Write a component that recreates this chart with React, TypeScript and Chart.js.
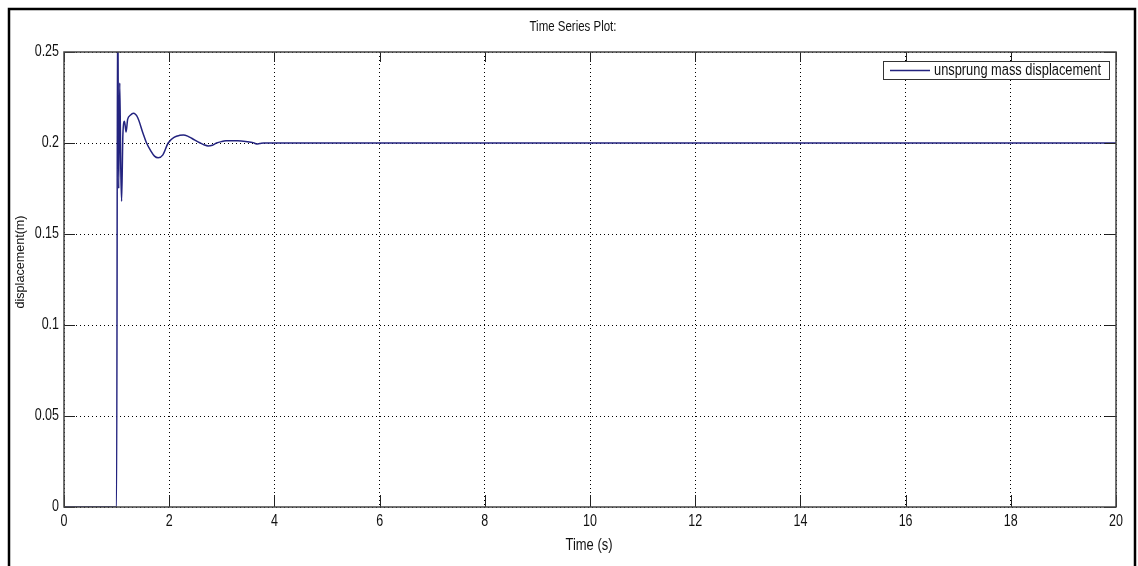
import React, { useEffect, useRef } from "react";
import { Chart, registerables } from "chart.js";

Chart.register(...registerables);

const TITLE = "Time Series Plot:";
const X_TITLE = "Time (s)";
const Y_TITLE = "displacement(m)";
const SERIES_LABEL = "unsprung mass displacement";

const timeValues = [
  0, 1.0, 1.02, 1.04, 1.06, 1.08, 1.095, 1.12, 1.15, 1.18, 1.21, 1.26, 1.32, 1.4, 1.5,
  1.57, 1.65, 1.72, 1.79, 1.88, 1.98, 2.1, 2.2, 2.27, 2.35, 2.45, 2.59, 2.67, 2.74,
  2.82, 2.9, 3.0, 3.08, 3.16, 3.3, 3.45, 3.6, 3.66, 3.72, 3.8, 20,
];
const displacementValues = [
  0, 0, 0.29, 0.175, 0.233, 0.185, 0.168, 0.205, 0.212, 0.206, 0.213, 0.2152, 0.2163,
  0.214, 0.2055, 0.2, 0.1957, 0.1928, 0.1919, 0.1935, 0.2, 0.2032, 0.2042, 0.2044,
  0.2038, 0.2022, 0.2, 0.1989, 0.1984, 0.1988, 0.2, 0.2008, 0.2012, 0.2013, 0.2012,
  0.2008, 0.2002, 0.1995, 0.1997, 0.2, 0.2,
];

const X_MIN = 0;
const X_MAX = 20;
const X_STEP = 2;
const Y_MIN = 0;
const Y_MAX = 0.25;
const Y_STEP = 0.05;

const FONT = "'Liberation Sans', Arial, sans-serif";
const NARROW = 0.78;
const LINE_COLOR = "#23237f";

function narrowText(ctx: any, text: string, x: number, y: number, size: number, align: string, target?: number) {
  ctx.save();
  ctx.font = `${size}px ${FONT}`;
  ctx.textBaseline = "middle";
  ctx.textAlign = "left";
  const w = ctx.measureText(text).width;
  const sx = target ? target / w : NARROW;
  const dw = w * sx;
  let x0 = x;
  if (align === "center") x0 = x - dw / 2;
  else if (align === "right") x0 = x - dw;
  ctx.translate(x0, y);
  ctx.scale(sx, 1);
  ctx.fillText(text, 0, 0);
  ctx.restore();
}

const decorPlugin = {
  id: "decor",
  afterDatasetsDraw(chart: any) {
    const { ctx, chartArea } = chart;
    const { left, right, top, bottom } = chartArea;
    const xs = chart.scales.x;
    const ys = chart.scales.y;
    ctx.save();
    // inner tick marks
    ctx.strokeStyle = "#222";
    ctx.lineWidth = 1;
    ctx.setLineDash([]);
    ctx.beginPath();
    xs.ticks.forEach((t: any) => {
      const px = Math.round(xs.getPixelForValue(t.value)) + 0.5;
      ctx.moveTo(px, bottom);
      ctx.lineTo(px, bottom - 12);
      ctx.moveTo(px, top);
      ctx.lineTo(px, top + 10);
    });
    ys.ticks.forEach((t: any) => {
      const py = Math.round(ys.getPixelForValue(t.value)) + 0.5;
      ctx.moveTo(left, py);
      ctx.lineTo(left + 11, py);
      ctx.moveTo(right, py);
      ctx.lineTo(right - 11, py);
    });
    ctx.stroke();
    // axes box
    ctx.strokeStyle = "#444";
    ctx.lineWidth = 1.5;
    ctx.strokeRect(left, top, right - left, bottom - top);

    // tick labels
    ctx.fillStyle = "#111";
    xs.ticks.forEach((t: any) => {
      narrowText(ctx, String(t.value), xs.getPixelForValue(t.value), bottom + 15, 16, "center");
    });
    ys.ticks.forEach((t: any) => {
      const lbl = String(Math.round(t.value * 100) / 100);
      narrowText(ctx, lbl, left - 5, ys.getPixelForValue(t.value), 16, "right");
    });

    // legend
    const lx = 883, ly = 61, lw = 226, lh = 18;
    ctx.fillStyle = "#fff";
    ctx.fillRect(lx, ly, lw, lh);
    ctx.strokeStyle = "#333";
    ctx.lineWidth = 1;
    ctx.strokeRect(lx + 0.5, ly + 0.5, lw, lh);
    ctx.strokeStyle = LINE_COLOR;
    ctx.lineWidth = 1.5;
    ctx.beginPath();
    ctx.moveTo(890, 70.5);
    ctx.lineTo(930, 70.5);
    ctx.stroke();
    ctx.fillStyle = "#111";
    narrowText(ctx, chart.data.datasets[0].label, 934, 71, 16, "left", 167);

    // titles
    narrowText(ctx, TITLE, 573, 27, 15, "center", 87);
    narrowText(ctx, X_TITLE, 589, 546, 16, "center", 47);
    ctx.save();
    ctx.translate(20, 262);
    ctx.rotate(-Math.PI / 2);
    narrowText(ctx, Y_TITLE, 0, 0, 13, "center", 93);
    ctx.restore();

    // outer frame
    ctx.strokeStyle = "#000";
    ctx.lineWidth = 2.5;
    ctx.beginPath();
    ctx.moveTo(9, 600);
    ctx.lineTo(9, 9);
    ctx.lineTo(1135, 9);
    ctx.lineTo(1135, 600);
    ctx.stroke();
    ctx.restore();
  },
};

export default function App() {
  const ref = useRef<HTMLCanvasElement | null>(null);
  useEffect(() => {
    if (!ref.current) return;
    const points = timeValues.map((t, i) => ({ x: t, y: displacementValues[i] }));
    const chart = new Chart(ref.current, {
      type: "line",
      data: {
        datasets: [
          {
            label: SERIES_LABEL,
            data: points,
            borderColor: LINE_COLOR,
            borderWidth: 1.5,
            pointRadius: 0,
            fill: false,
            cubicInterpolationMode: "monotone",
            clip: 0,
          } as any,
        ],
      },
      options: {
        responsive: false,
        animation: false,
        layout: { padding: { left: 0, right: 22, top: 52, bottom: 0 } },
        plugins: {
          legend: { display: false },
          title: { display: false },
          tooltip: { enabled: false },
        },
        scales: {
          x: {
            type: "linear",
            min: X_MIN,
            max: X_MAX,
            afterFit: (s: any) => {
              s.height = 59;
            },
            ticks: { stepSize: X_STEP, display: false },
            grid: { color: "#000", lineWidth: 1, drawTicks: false },
            border: { display: false, dash: [1, 3] },
          },
          y: {
            type: "linear",
            min: Y_MIN,
            max: Y_MAX,
            afterFit: (s: any) => {
              s.width = 64;
            },
            ticks: { stepSize: Y_STEP, display: false },
            grid: { color: "#000", lineWidth: 1, drawTicks: false },
            border: { display: false, dash: [1, 3] },
          },
        },
      },
      plugins: [decorPlugin],
    });
    return () => chart.destroy();
  }, []);
  return (
    <canvas
      ref={ref}
      width={1138}
      height={566}
      style={{ position: "fixed", left: 0, top: 0, width: 1138, height: 566 }}
    />
  );
}
